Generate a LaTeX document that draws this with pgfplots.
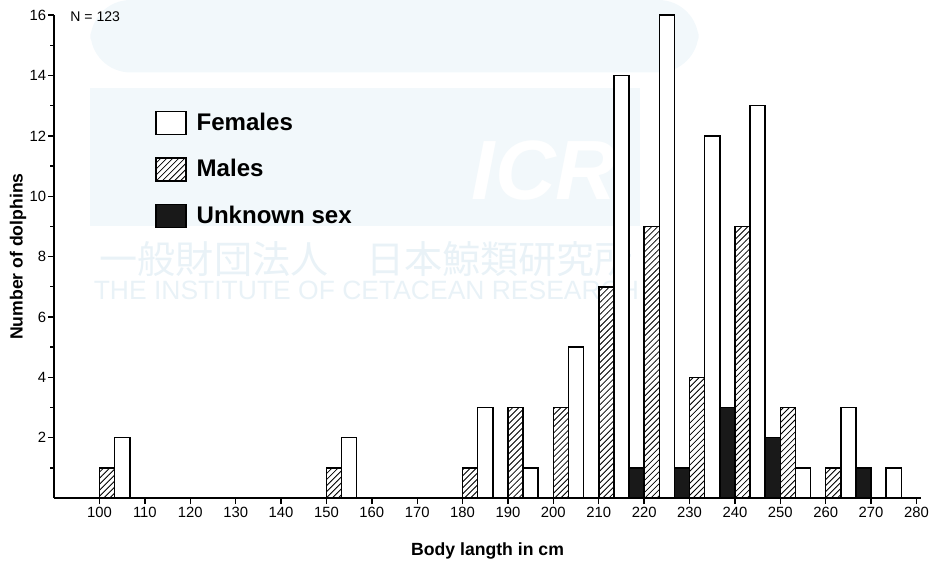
\documentclass[border=0pt]{standalone}
\usepackage{fontspec}
\setmainfont{Liberation Sans}
\newfontfamily\cjk{Noto Sans CJK JP}
\usepackage{graphicx}
\usepackage{pgfplots}
\pgfplotsset{compat=1.18}
\usetikzlibrary{patterns}
\definecolor{wmbg}{RGB}{242,248,251}
\definecolor{wmtx}{RGB}{233,242,247}
\pgfplotsset{boxlegend/.style={legend image code/.code={\draw[##1] (0pt,-5.75pt) rectangle (15pt,5.75pt);}}}
\begin{document}
\begin{tikzpicture}
\begin{axis}[
  scale only axis,
  width=432.5pt, height=241pt,
  xmin=90, xmax=281, ymin=0, ymax=16,
  clip=false,
  axis x line*=bottom, axis y line*=left,
  x axis line style={-, line width=0.9pt},
  y axis line style={-, line width=0.9pt},
  xtick={100,110,...,280},
  ytick={2,4,...,16},
  minor ytick={1,3,...,15},
  tick align=outside,
  major tick length=3pt, minor tick length=2pt,
  tick style={black, line width=0.7pt},
  /pgf/number format/assume math mode=true,
  ticklabel style={font=\fontsize{7.4}{8}\selectfont},
  xticklabel style={yshift=2pt},
  yticklabel style={xshift=2.5pt},
  every axis x label/.style={at={(rel axis cs:0.5,0)}, anchor=base, yshift=-28.5pt},
  every axis y label/.style={at={(rel axis cs:0,0.5)}, xshift=-18pt, rotate=90, anchor=center},
  xlabel={\bfseries\fontsize{8.8}{10}\selectfont Body langth in cm},
  ylabel={\bfseries\fontsize{8.8}{10}\selectfont Number of dolphins},
  ybar, bar width=3.333, bar shift=0pt,
  legend style={at={(rel axis cs:0.116,0.803)}, anchor=north west, draw=none, fill=none,
    inner sep=0pt, row sep=11pt, font=\bfseries\fontsize{12}{14}\selectfont,
    nodes={inner sep=0pt}, /tikz/every odd column/.append style={column sep=5pt}},
  legend cell align=left,
]
% watermark
\fill[wmbg, rounded corners=20pt] (axis cs:98,16.5) rectangle (axis cs:232,14.1);
\fill[wmbg] (axis cs:98,13.58) rectangle (axis cs:219,9.03);
\node[white, font=\bfseries\itshape\fontsize{42}{44}\selectfont] at (axis cs:198,10.85) {ICR};
\node[wmtx, font=\cjk\fontsize{19}{20}\selectfont] at (axis cs:158.8,7.93) {一般財団法人　日本鯨類研究所};
\node[wmtx] at (axis cs:158.8,6.87) {\resizebox{272pt}{!}{THE INSTITUTE OF CETACEAN RESEARCH}};
\node[anchor=west, font=\fontsize{7}{8}\selectfont, inner sep=0pt] at (axis cs:93.5,15.95) {N = 123};
% Females
\addplot[boxlegend, draw=black, line width=0.75pt, fill=white] coordinates {
 (105,2) (155,2) (185,3) (195,1) (205,5) (215,14) (225,16) (235,12) (245,13) (255,1) (265,3) (275,1)};
\addlegendentry{Females}
% Males
\addplot[boxlegend, draw=black, line width=0.75pt, fill=white, postaction={pattern=north east lines}] coordinates {
 (101.667,1) (151.667,1) (181.667,1) (191.667,3) (201.667,3) (211.667,7) (221.667,9) (231.667,4) (241.667,9) (251.667,3) (261.667,1)};
\addlegendentry{Males}
% Unknown sex
\addplot[boxlegend, draw=black, line width=0.75pt, fill=black!90] coordinates {
 (218.333,1) (228.333,1) (238.333,3) (248.333,2) (268.333,1)};
\addlegendentry{Unknown sex}
\path (rel axis cs:0,0) ++(-27pt,-32pt) coordinate (bl);
\path (rel axis cs:1,1) ++(8pt,7.5pt) coordinate (tr);
\end{axis}
\path (bl) rectangle (tr);
\end{tikzpicture}
\end{document}
